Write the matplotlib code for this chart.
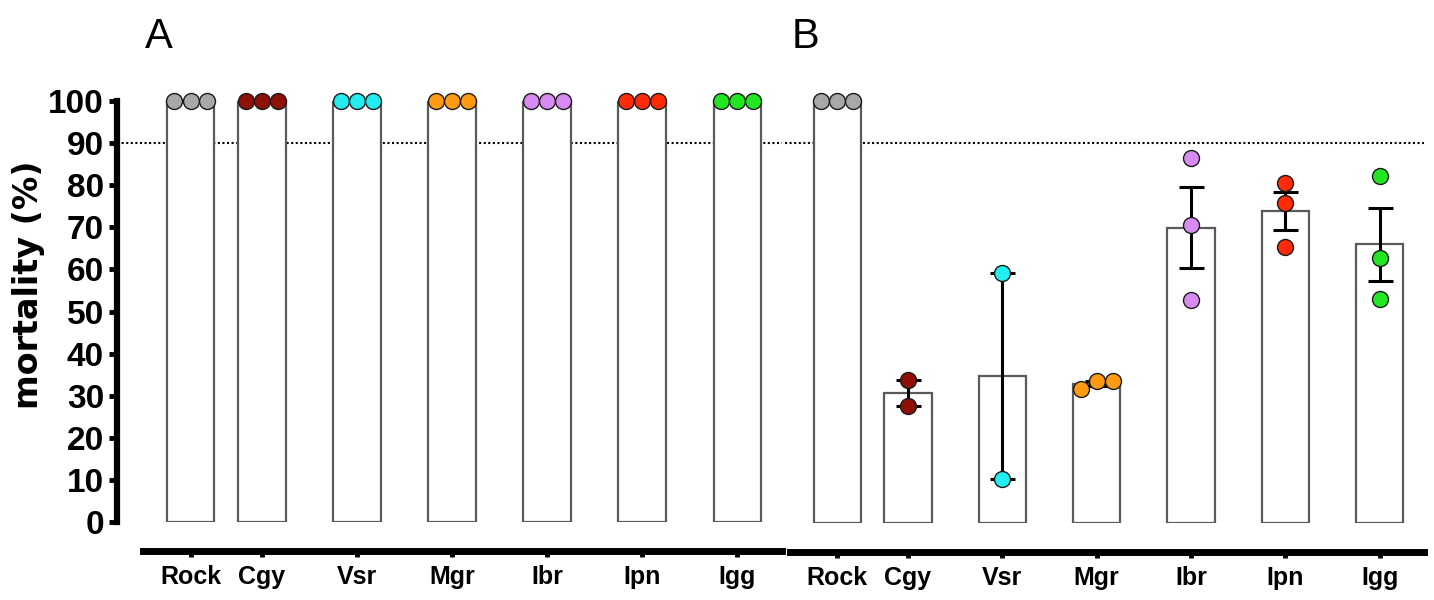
import numpy as np
import matplotlib.pyplot as plt

groups = ['Rock', 'Cgy', 'Vsr', 'Mgr', 'Ibr', 'Ipn', 'Igg']
colors = ['#a8a8a8', '#8e0f05', '#22eef2', '#ff9a12', '#d98af2', '#ff2a06', '#22e622']

# panel A: every sample reached 100 % mortality
values_a = [
    [100, 100, 100],
    [100, 100, 100],
    [100, 100, 100],
    [100, 100, 100],
    [100, 100, 100],
    [100, 100, 100],
    [100, 100, 100],
]
# panel B
values_b = [
    [100, 100, 100],
    [34.0, 27.8],
    [59.2, 10.5],
    [31.7, 33.6, 33.7],
    [86.4, 70.7, 52.9],
    [80.6, 75.9, 65.5],
    [82.3, 62.8, 53.0],
]
yticks = list(range(0, 101, 10))
threshold = 90

W, H = 1434, 600
font_tick = ['Liberation Sans', 'DejaVu Sans']

fig = plt.figure(figsize=(W / 100, H / 100), dpi=100)
axA = fig.add_axes([143 / W, (H - 522) / H, (782 - 143) / W, (522 - 101) / H])
axB = fig.add_axes([790 / W, (H - 523) / H, (1424 - 790) / W, (523 - 101) / H])

# Rock sits closer to Cgy than the other spacing
xpos = np.array([0, 0.75, 1.75, 2.75, 3.75, 4.75, 5.75])


def draw_panel(ax, values, show_y):
    means = [np.mean(v) for v in values]
    sems = [np.std(v, ddof=1) / np.sqrt(len(v)) for v in values]
    ax.bar(xpos, means, width=0.5, color='white', edgecolor='#5a5a5a', linewidth=1.6, zorder=2)
    for x, m, s in zip(xpos, means, sems):
        if s > 0:
            ax.errorbar(x, m, yerr=s, color='black', lw=2.2, capsize=9, capthick=2.2, zorder=3)
    for x, v, c in zip(xpos, values, colors):
        v = np.asarray(v, dtype=float)
        # spread points sideways when they would overlap
        if np.ptp(v) < 3:
            offs = (np.arange(len(v)) - (len(v) - 1) / 2) * 0.17
        else:
            offs = np.zeros(len(v))
        ax.plot(x + offs, v, 'o', ms=11.5, mfc=c, mec='#1a1a1a', mew=1.0,
                linestyle='none', zorder=4, clip_on=False)
    ax.axhline(threshold, xmin=-0.041 if show_y else -0.008, xmax=1, color='black',
               ls=(0, (1, 1.2)), lw=1.5, clip_on=False, zorder=1)

    ax.set_xlim(-0.5, 6.22)
    ax.set_ylim(0, 100)
    for s in ['top', 'right']:
        ax.spines[s].set_visible(False)
    ax.spines['bottom'].set_position(('outward', 21))
    ax.spines['bottom'].set_linewidth(5)
    ax.set_xticks(xpos)
    ax.set_xticklabels(groups, fontsize=18, fontweight='bold', family=font_tick)
    ax.tick_params(axis='x', length=4, width=3.5, pad=6)
    if show_y:
        ax.spines['left'].set_position(('outward', 19))
        ax.spines['left'].set_linewidth(4.5)
        ax.set_yticks(yticks)
        ax.set_yticklabels([str(t) for t in yticks], fontsize=24, fontweight='bold', family=font_tick)
        ax.tick_params(axis='y', length=6, width=3.5, pad=3)
        ax.set_ylabel('mortality (%)', fontsize=24, fontweight='bold', family='DejaVu Sans')
        ax.yaxis.set_label_coords(-0.154, 0.563)
    else:
        ax.spines['left'].set_visible(False)
        ax.set_yticks([])


draw_panel(axA, values_a, True)
draw_panel(axB, values_b, False)

fig.text(145 / W, 1 - 48 / H, 'A', fontsize=30, family=font_tick, ha='left', va='baseline')
fig.text(792 / W, 1 - 48 / H, 'B', fontsize=30, family=font_tick, ha='left', va='baseline')

fig.savefig('out.png', dpi=100)
